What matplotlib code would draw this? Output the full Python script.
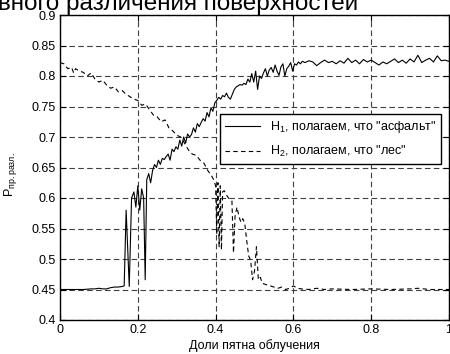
import numpy as np
import matplotlib
matplotlib.use('Agg')
import matplotlib.pyplot as plt

plt.rcParams['font.family'] = ['Liberation Sans', 'DejaVu Sans']
plt.rcParams['mathtext.fontset'] = 'custom'
plt.rcParams['mathtext.rm'] = 'Liberation Sans'

# H1: "асфальт"
x_h1 = [0.00, 0.02, 0.04, 0.06, 0.08, 0.09, 0.10, 0.11, 0.12, 0.13, 0.14, 0.15, 0.16, 0.165,
        0.170, 0.178, 0.184, 0.190, 0.195, 0.200, 0.205, 0.210, 0.215, 0.219, 0.223, 0.228,
        0.233, 0.238, 0.243, 0.248, 0.253, 0.258, 0.263, 0.268, 0.273, 0.278, 0.283, 0.288,
        0.293, 0.298, 0.303, 0.308, 0.313, 0.318, 0.323, 0.328, 0.333, 0.338, 0.343, 0.348,
        0.353, 0.358, 0.363, 0.368, 0.373, 0.378, 0.383, 0.388, 0.393, 0.398, 0.403, 0.408,
        0.413, 0.418, 0.423, 0.428, 0.433, 0.438, 0.443, 0.448, 0.453, 0.458, 0.463, 0.468,
        0.473, 0.478, 0.483, 0.488, 0.493, 0.498, 0.503, 0.508, 0.513, 0.518, 0.523, 0.528,
        0.533, 0.538, 0.543, 0.548, 0.553, 0.558, 0.563, 0.568, 0.573, 0.578, 0.583, 0.588,
        0.593, 0.598, 0.603, 0.608, 0.613, 0.618, 0.623, 0.63, 0.64, 0.65, 0.66, 0.67, 0.68,
        0.69, 0.70, 0.71, 0.72, 0.73, 0.74, 0.75, 0.76, 0.77, 0.78, 0.79, 0.80, 0.81, 0.82,
        0.83, 0.84, 0.85, 0.86, 0.87, 0.88, 0.89, 0.90, 0.91, 0.92, 0.93, 0.94, 0.95, 0.96,
        0.97, 0.98, 0.99, 1.00]
y_h1 = [0.450, 0.450, 0.450, 0.450, 0.451, 0.451, 0.452, 0.451, 0.451, 0.453, 0.454, 0.454, 0.455, 0.456,
        0.580, 0.455, 0.600, 0.610, 0.585, 0.620, 0.580, 0.615, 0.600, 0.466, 0.630, 0.640,
        0.625, 0.645, 0.655, 0.650, 0.662, 0.655, 0.665, 0.663, 0.668, 0.672, 0.662, 0.680,
        0.676, 0.684, 0.680, 0.695, 0.685, 0.700, 0.690, 0.705, 0.700, 0.704, 0.715, 0.708,
        0.722, 0.717, 0.724, 0.730, 0.726, 0.740, 0.733, 0.748, 0.742, 0.756, 0.760, 0.765,
        0.762, 0.768, 0.766, 0.772, 0.765, 0.762, 0.770, 0.778, 0.782, 0.784, 0.786, 0.785,
        0.788, 0.786, 0.795, 0.790, 0.804, 0.790, 0.808, 0.778, 0.800, 0.796, 0.805, 0.812,
        0.800, 0.810, 0.814, 0.806, 0.818, 0.808, 0.801, 0.815, 0.820, 0.800, 0.812, 0.816,
        0.822, 0.808, 0.820, 0.818, 0.823, 0.820, 0.824, 0.822, 0.825, 0.823, 0.817, 0.822, 0.826,
        0.822, 0.824, 0.820, 0.825, 0.821, 0.829, 0.822, 0.826, 0.820, 0.827, 0.823, 0.826, 0.822, 0.818,
        0.823, 0.820, 0.824, 0.828, 0.822, 0.826, 0.821, 0.828, 0.823, 0.834, 0.822, 0.826, 0.829, 0.823,
        0.833, 0.825, 0.826, 0.824]

# H2: "лес"
x_h2 = [0.000, 0.010, 0.020, 0.030, 0.035, 0.040, 0.050, 0.060, 0.070, 0.080, 0.090, 0.100,
        0.110, 0.120, 0.130, 0.140, 0.150, 0.160, 0.170, 0.180, 0.190, 0.200, 0.210, 0.220,
        0.230, 0.240, 0.250, 0.260, 0.270, 0.280, 0.290, 0.300, 0.310, 0.320, 0.330, 0.340,
        0.350, 0.360, 0.370, 0.380, 0.390, 0.395, 0.400, 0.403, 0.406, 0.409, 0.412, 0.415,
        0.418, 0.422, 0.428, 0.433, 0.438, 0.442, 0.446, 0.450, 0.455, 0.460, 0.465, 0.470,
        0.475, 0.480, 0.485, 0.490, 0.495, 0.500, 0.505, 0.510, 0.515, 0.520, 0.530, 0.540,
        0.550, 0.560, 0.570, 0.580, 0.590, 0.600, 0.610, 0.620, 0.640, 0.660, 0.680, 0.700,
        0.750, 0.800, 0.850, 0.900, 0.920, 0.950, 1.000]
y_h2 = [0.822, 0.820, 0.812, 0.814, 0.805, 0.812, 0.808, 0.806, 0.800, 0.805, 0.795, 0.790,
        0.793, 0.785, 0.780, 0.782, 0.774, 0.776, 0.770, 0.766, 0.762, 0.760, 0.752, 0.754,
        0.745, 0.736, 0.733, 0.725, 0.728, 0.715, 0.710, 0.703, 0.700, 0.690, 0.679, 0.672,
        0.670, 0.662, 0.657, 0.645, 0.636, 0.630, 0.620, 0.540, 0.625, 0.520, 0.620, 0.515,
        0.610, 0.612, 0.605, 0.600, 0.598, 0.595, 0.510, 0.570, 0.585, 0.570, 0.560, 0.566,
        0.558, 0.530, 0.505, 0.498, 0.466, 0.480, 0.520, 0.466, 0.470, 0.460, 0.458, 0.456,
        0.454, 0.452, 0.454, 0.450, 0.452, 0.456, 0.452, 0.451, 0.450, 0.452, 0.450, 0.451,
        0.450, 0.451, 0.450, 0.451, 0.452, 0.450, 0.450]

x_ticks = [0, 0.2, 0.4, 0.6, 0.8, 1]
x_ticklabels = ['0', '0.2', '0.4', '0.6', '0.8', '1']
y_ticks = [0.4, 0.45, 0.5, 0.55, 0.6, 0.65, 0.7, 0.75, 0.8, 0.85, 0.9]
y_ticklabels = ['0.4', '0.45', '0.5', '0.55', '0.6', '0.65', '0.7', '0.75', '0.8', '0.85', '0.9']

fig = plt.figure(figsize=(4.5, 3.54), dpi=100)
ax = fig.add_axes([60 / 450, 34 / 354, 389 / 450, 305 / 354])

ax.plot(x_h1, y_h1, color='black', lw=0.8, label='H$_1$, полагаем, что "асфальт"')
ax.plot(x_h2, y_h2, color='black', lw=0.8, linestyle=(0, (4, 3)),
        label='H$_2$, полагаем, что "лес"')

ax.set_xlim(0, 1)
ax.set_ylim(0.4, 0.9)
ax.set_xticks(x_ticks)
ax.set_xticklabels(x_ticklabels)
ax.set_yticks(y_ticks)
ax.set_yticklabels(y_ticklabels)
ax.tick_params(direction='in', top=True, right=True, labelsize=9, length=4, pad=3)
ax.grid(True, color='#404040', linestyle=(0, (5, 3)), lw=0.8)

for s in ax.spines.values():
    s.set_linewidth(1.0)

ax.set_xlabel('Доли пятна облучения', fontsize=9, labelpad=2)
ax.set_ylabel('P$_{\\mathregular{пр.разл.}}$', fontsize=9)
ax.yaxis.set_label_coords(-0.105, 0.475)

leg = ax.legend(loc='upper right', bbox_to_anchor=(0.979, 0.675), fontsize=9,
                frameon=True, fancybox=False, framealpha=1, edgecolor='black',
                borderaxespad=0, handlelength=2.8, labelspacing=0.7)
leg.get_frame().set_linewidth(1.0)

fig.text(-0.005, 1 - 10 / 354, 'вного различения поверхностей', fontsize=17.5,
         ha='left', va='baseline')

fig.savefig('out.png', dpi=100)
